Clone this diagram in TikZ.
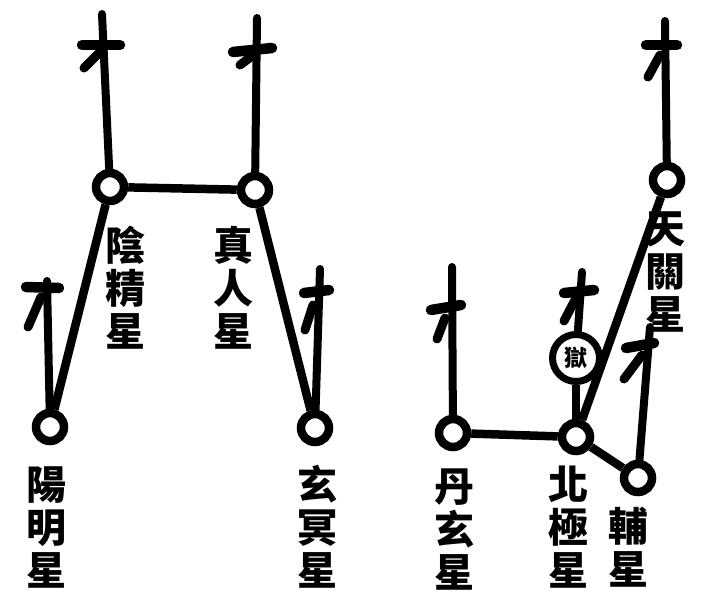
\documentclass[tikz,border=0pt]{standalone}
\usepackage{fontspec}
\newfontfamily\cjk{Noto Sans CJK TC}
\newcommand\swordglyph[6]{%
  \draw[stem] (#1) -- (#2);
  \draw[bar] (#3) -- (#4);
  \draw[hook] (#5) -- (#6);}
\begin{document}
\begin{tikzpicture}[x=1pt,y=-1pt,
  link/.style={line width=8.5pt},
  stem/.style={line width=8pt, line cap=round},
  bar/.style={line width=10.5pt, line cap=round},
  hook/.style={line width=9pt, line cap=round},
  star/.style={circle, draw, line width=8.5pt, fill=white, minimum size=28pt, inner sep=0pt},
  bigstar/.style={circle, draw, line width=7pt, fill=white, minimum size=47pt, inner sep=0pt,
    font=\cjk\bfseries\fontsize{23}{23}\selectfont},
  lbl/.style={font=\cjk\bfseries\fontsize{40}{43}\selectfont, align=center, inner sep=0pt}]
\useasboundingbox (0,0) rectangle (704,607);
% stars
\node[star] (yj) at (110,187) {};
\node[star] (zr) at (255,190) {};
\node[star] (ym) at (50,427) {};
\node[star] (xm) at (315,428) {};
\node[star] (dx) at (453,433) {};
\node[star] (bj) at (576,437) {};
\node[star] (fu) at (638,478) {};
\node[star] (tg) at (667,180) {};
\node[bigstar] (yu) at (576,358) {獄};
% connectors
\draw[link] (yj) -- (zr);
\draw[link] (ym) -- (yj);
\draw[link] (zr) -- (xm);
\draw[link] (dx) -- (bj);
\draw[link] (bj) -- (fu);
\draw[link] (bj) -- (tg);
\draw[link] (yu) -- (bj);
% sword coordinates
\coordinate (t1) at (102,14);  \coordinate (a1) at (82,45);  \coordinate (b1) at (120,45);  \coordinate (c1) at (100,52);  \coordinate (d1) at (84,68);
\coordinate (t2) at (257,18);  \coordinate (a2) at (233,52); \coordinate (b2) at (272,48);  \coordinate (c2) at (252,56);  \coordinate (d2) at (240,65);
\coordinate (t3) at (47,281);  \coordinate (a3) at (26,287); \coordinate (b3) at (59,288);  \coordinate (c3) at (41,297);  \coordinate (d3) at (28,327);
\coordinate (t4) at (320,269); \coordinate (a4) at (304,293);\coordinate (b4) at (329,290); \coordinate (c4) at (313,305); \coordinate (d4) at (305,330);
\coordinate (t5) at (452,267); \coordinate (a5) at (431,310);\coordinate (b5) at (461,305); \coordinate (c5) at (445,318); \coordinate (d5) at (437,339);
\coordinate (t6) at (582,272); \coordinate (a6) at (564,293);\coordinate (b6) at (594,290); \coordinate (c6) at (575,300); \coordinate (d6) at (564,321);
\coordinate (t7) at (665,21);  \coordinate (a7) at (646,45); \coordinate (b7) at (677,45);  \coordinate (c7) at (660,55);  \coordinate (d7) at (648,77);
\coordinate (t8) at (650,327); \coordinate (a8) at (626,348);\coordinate (b8) at (654,343); \coordinate (c8) at (642,355); \coordinate (d8) at (624,379);
\swordglyph{yj}{t1}{a1}{b1}{c1}{d1}
\swordglyph{zr}{t2}{a2}{b2}{c2}{d2}
\swordglyph{ym}{t3}{a3}{b3}{c3}{d3}
\swordglyph{xm}{t4}{a4}{b4}{c4}{d4}
\swordglyph{dx}{t5}{a5}{b5}{c5}{d5}
\swordglyph{yu}{t6}{a6}{b6}{c6}{d6}
\swordglyph{tg}{t7}{a7}{b7}{c7}{d7}
\swordglyph{fu}{t8}{a8}{b8}{c8}{d8}
% labels
\node[lbl] (l1) at (125,288) {陰\\精\\星};
\node[lbl] (l2) at (233,288) {真\\人\\星};
\node[lbl] (l3) at (47,527) {陽\\明\\星};
\node[lbl] (l4) at (317,527) {玄\\冥\\星};
\node[lbl] (l5) at (454,530) {丹\\玄\\星};
\node[lbl] (l6) at (568,527) {北\\極\\星};
\node[lbl] (l7) at (628,547) {輔\\星};
\node[lbl] (l8) at (665,272) {天\\關\\星};
\end{tikzpicture}
\end{document}
